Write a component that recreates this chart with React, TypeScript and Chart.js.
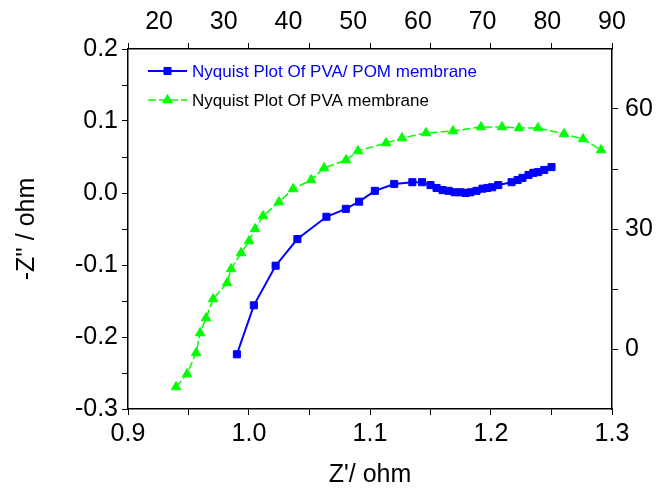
import React, { useEffect, useRef } from "react";
import { Chart, registerables } from "chart.js";
import { drawPoint } from "chart.js/helpers";

Chart.register(...registerables);

// PVA/POM membrane (bottom / left axes)
const blueZre = [0.990, 1.004, 1.022, 1.040, 1.064, 1.080, 1.091, 1.104, 1.120, 1.135, 1.143, 1.150, 1.155, 1.160, 1.165, 1.170, 1.175, 1.179, 1.183, 1.188, 1.193, 1.197, 1.201, 1.206, 1.217, 1.222, 1.226, 1.231, 1.235, 1.239, 1.244, 1.250];
const blueZim = [-0.224, -0.156, -0.101, -0.064, -0.033, -0.022, -0.012, 0.003, 0.0125, 0.015, 0.015, 0.011, 0.007, 0.004, 0.003, 0.001, 0.001, 0.000, 0.001, 0.003, 0.006, 0.007, 0.008, 0.011, 0.015, 0.018, 0.021, 0.025, 0.028, 0.029, 0.032, 0.036];

// PVA membrane (top / right axes)
const greenZre = [22.63, 24.33, 25.72, 26.34, 27.26, 28.35, 30.51, 31.13, 32.67, 33.91, 34.84, 36.07, 38.54, 40.71, 43.49, 45.50, 48.90, 50.75, 55.08, 57.55, 61.26, 65.43, 69.76, 73.01, 75.63, 78.57, 82.59, 85.52, 88.31];
const greenZim = [-9.5, -6.25, -1.0, 4.0, 7.75, 12.5, 16.5, 20.0, 24.0, 27.0, 30.0, 33.25, 36.75, 40.0, 42.25, 45.25, 47.25, 49.5, 51.5, 52.75, 54.0, 54.5, 55.5, 55.5, 55.25, 55.25, 53.75, 52.5, 49.75];

const seriesLabels = ["Nyquist Plot Of PVA/ POM membrane", "Nyquist Plot Of PVA membrane"];

// tick values
const bottomTicks = [0.9, 0.95, 1.0, 1.05, 1.1, 1.15, 1.2, 1.25, 1.3];
const bottomLabels = ["0.9", "", "1.0", "", "1.1", "", "1.2", "", "1.3"];
const leftTicks = [-0.3, -0.25, -0.2, -0.15, -0.1, -0.05, 0, 0.05, 0.1, 0.15, 0.2];
const leftLabels = ["-0.3", "", "-0.2", "", "-0.1", "", "0.0", "", "0.1", "", "0.2"];
const topTicks = [20, 30, 40, 50, 60, 70, 80, 90];
const topLabels = ["20", "30", "40", "50", "60", "70", "80", "90"];
const rightTicks = [0, 15, 30, 45, 60];
const rightLabels = ["0", "", "30", "", "60"];

const FONT = '"Liberation Sans", Arial, sans-serif';
const BLUE = "#0000ff";
const GREEN = "#00ff00";

const insideLegend = {
  id: "insideLegend",
  afterDraw(chart: any) {
    const ctx = chart.ctx;
    const a = chart.chartArea;
    ctx.save();
    chart.data.datasets.forEach((ds: any, i: number) => {
      const y = a.top + 22 + i * 29;
      const x0 = a.left + 20;
      const x1 = a.left + 59;
      const xm = (x0 + x1) / 2;
      ctx.strokeStyle = ds.borderColor;
      ctx.lineWidth = ds.borderWidth;
      ctx.setLineDash(ds.borderDash || []);
      ctx.beginPath();
      ctx.moveTo(x0, y);
      ctx.lineTo(x1, y);
      ctx.stroke();
      ctx.setLineDash([]);
      ctx.fillStyle = ds.pointBackgroundColor;
      ctx.strokeStyle = ds.pointBorderColor;
      ctx.lineWidth = 1;
      drawPoint(ctx, { pointStyle: ds.pointStyle, radius: ds.pointRadius, rotation: 0, borderWidth: 1 }, xm, y);
      ctx.fillStyle = i === 0 ? BLUE : "#000000";
      ctx.font = "17px " + FONT;
      ctx.textAlign = "left";
      ctx.textBaseline = "middle";
      ctx.fillText(ds.label, a.left + 64, y + 1);
    });
    ctx.restore();
  },
};

function labelFrom(vals: number[], labels: string[]) {
  return (v: any) => {
    const idx = vals.findIndex((t) => Math.abs(t - Number(v)) < 1e-9);
    return idx >= 0 ? labels[idx] : "";
  };
}

export default function App() {
  const ref = useRef<HTMLCanvasElement | null>(null);
  useEffect(() => {
    if (!ref.current) return;
    const tickFont = { family: FONT, size: 25 };
    const titleFont = { family: FONT, size: 25, lineHeight: 1 };
    const gridCommon = { drawOnChartArea: false, drawTicks: true, tickLength: 6, tickColor: "#000", tickWidth: 1 };
    const borderCommon = { display: true, color: "#000", width: 1.5 };
    const chart = new Chart(ref.current, {
      type: "scatter",
      data: {
        datasets: [
          {
            label: seriesLabels[0],
            data: blueZre.map((x, i) => ({ x, y: blueZim[i] })),
            xAxisID: "x",
            yAxisID: "y",
            showLine: true,
            borderColor: BLUE,
            borderWidth: 2,
            pointStyle: "rect",
            pointRadius: 5,
            pointBackgroundColor: BLUE,
            pointBorderColor: BLUE,
            pointBorderWidth: 1,
          },
          {
            label: seriesLabels[1],
            data: greenZre.map((x, i) => ({ x, y: greenZim[i] })),
            xAxisID: "x2",
            yAxisID: "y2",
            showLine: true,
            borderColor: GREEN,
            borderWidth: 1.5,
            borderDash: [8, 3],
            pointStyle: "triangle",
            pointRadius: 5.5,
            pointBackgroundColor: GREEN,
            pointBorderColor: GREEN,
            pointBorderWidth: 1,
          },
        ],
      },
      options: {
        animation: false,
        responsive: false,
        layout: { padding: 0 },
        plugins: { legend: { display: false }, tooltip: { enabled: false } },
        scales: {
          x: {
            type: "linear",
            position: "bottom",
            min: 0.9,
            max: 1.3,
            afterBuildTicks: (s: any) => { s.ticks = bottomTicks.map((value) => ({ value })); },
            afterFit: (s: any) => { s.height = 79; },
            ticks: { font: tickFont, color: "#000", padding: 4, maxRotation: 0, autoSkip: false, callback: labelFrom(bottomTicks, bottomLabels) },
            grid: gridCommon,
            border: borderCommon,
            title: { display: true, text: "Z'/ ohm", font: titleFont, color: "#000", padding: { top: -4, bottom: 0 } },
          },
          y: {
            type: "linear",
            position: "left",
            min: -0.3,
            max: 0.2,
            afterBuildTicks: (s: any) => { s.ticks = leftTicks.map((value) => ({ value })); },
            afterFit: (s: any) => { s.width = 128; },
            ticks: { font: tickFont, color: "#000", padding: 4, autoSkip: false, callback: labelFrom(leftTicks, leftLabels) },
            grid: gridCommon,
            border: borderCommon,
            title: { display: true, text: "-Z'' / ohm", font: titleFont, color: "#000", padding: { top: 15, bottom: 0 } },
          },
          x3: {
            type: "linear",
            position: "top",
            weight: 0,
            min: 0.9,
            max: 1.3,
            afterBuildTicks: (s: any) => { s.ticks = bottomTicks.map((value) => ({ value })); },
            afterFit: (s: any) => { s.height = 6; },
            ticks: { display: false },
            grid: gridCommon,
            border: borderCommon,
          },
          x2: {
            type: "linear",
            position: "top",
            weight: 1,
            min: 15.2,
            max: 90,
            afterBuildTicks: (s: any) => { s.ticks = topTicks.map((value) => ({ value })); },
            afterFit: (s: any) => { s.height = 43; },
            ticks: { font: tickFont, color: "#000", padding: 6, maxRotation: 0, autoSkip: false, callback: labelFrom(topTicks, topLabels) },
            grid: { display: false, drawTicks: false },
            border: { display: false },
          },
          y2: {
            type: "linear",
            position: "right",
            min: -15,
            max: 75,
            afterBuildTicks: (s: any) => { s.ticks = rightTicks.map((value) => ({ value })); },
            afterFit: (s: any) => { s.width = 44; },
            ticks: { font: tickFont, color: "#000", padding: 7, autoSkip: false, callback: labelFrom(rightTicks, rightLabels) },
            grid: gridCommon,
            border: borderCommon,
          },
        },
      },
      plugins: [insideLegend],
    } as any);
    return () => chart.destroy();
  }, []);
  return (
    <div style={{ position: "absolute", left: 0, top: 0, width: 656, height: 488, background: "#fff" }}>
      <canvas ref={ref} width={656} height={488} style={{ display: "block" }} />
    </div>
  );
}
